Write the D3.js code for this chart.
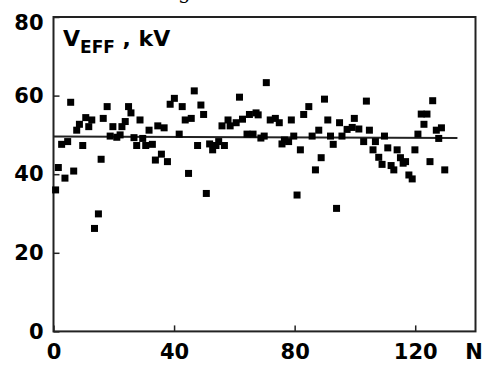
<!DOCTYPE html>
<html>
<head>
<meta charset="utf-8">
<script src="https://cdn.jsdelivr.net/npm/d3@7"></script>
<style>
  body { margin: 0; background: #fff; }
  svg { display: block; }
</style>
</head>
<body>
<div id="chart"></div>
<script>
const nValues = [
  0.7, 1.6, 2.7, 3.8, 4.7, 5.7, 6.7, 7.7, 8.6, 9.7,
  10.7, 11.7, 12.7, 13.6, 14.9, 15.8, 16.5, 17.8, 18.8, 19.7,
  21.0, 22.1, 22.7, 23.8, 24.9, 25.7, 26.7, 27.6, 28.7, 29.6,
  30.6, 31.7, 32.8, 33.8, 34.6, 35.8, 36.7, 37.8, 38.7, 40.1,
  41.7, 42.7, 43.7, 44.8, 45.7, 46.7, 47.8, 48.9, 49.8, 50.7,
  51.8, 52.8, 53.9, 54.8, 55.9, 56.7, 57.9, 58.6, 60.6, 61.7,
  62.7, 64.2, 65.0, 66.2, 67.2, 67.9, 68.8, 69.9, 70.6, 71.9,
  73.6, 74.9, 75.8, 76.6, 78.0, 78.9, 79.7, 80.8, 81.9, 83.0,
  84.7, 85.8, 86.9, 88.0, 88.8, 89.9, 91.0, 91.9, 92.8, 93.9,
  94.9, 95.7, 97.4, 99.1, 99.8, 101.3, 102.9, 103.8, 104.8, 106.0,
  106.8, 107.9, 109.0, 109.8, 110.9, 112.0, 112.9, 114.0, 115.1, 116.0,
  116.8, 117.9, 119.0, 119.9, 120.9, 122.0, 122.9, 123.9, 124.9, 125.8,
  127.0, 127.8, 128.7, 129.8
];
const vValues = [
  36.0, 41.7, 47.6, 39.0, 48.3, 58.3, 40.8, 51.2, 52.7, 47.3,
  54.4, 52.1, 53.8, 26.2, 29.9, 43.8, 54.2, 57.2, 49.7, 52.1,
  49.4, 50.0, 52.1, 53.4, 57.2, 55.6, 49.3, 47.3, 53.8, 49.1,
  47.3, 51.2, 47.6, 43.6, 52.3, 45.1, 51.8, 43.2, 57.8, 59.3,
  50.2, 57.2, 53.8, 40.2, 54.2, 61.2, 47.3, 57.6, 55.2, 35.1,
  47.7, 46.2, 47.3, 48.3, 52.3, 47.3, 53.8, 52.3, 53.1, 59.6,
  54.0, 50.2, 55.2, 50.2, 55.6, 55.1, 49.2, 49.7, 63.3, 53.8,
  54.2, 53.1, 47.7, 48.7, 48.3, 53.8, 49.7, 34.7, 46.2, 55.2,
  57.2, 49.7, 41.1, 51.2, 44.2, 59.1, 53.8, 49.7, 47.6, 31.3,
  53.1, 49.7, 51.4, 51.9, 54.2, 51.5, 48.3, 58.6, 51.2, 46.2,
  48.3, 44.3, 42.5, 49.7, 46.7, 42.2, 41.1, 46.2, 44.2, 42.8,
  43.2, 39.8, 38.8, 46.2, 50.2, 55.3, 52.7, 55.3, 43.2, 58.7,
  51.2, 49.1, 51.8, 41.1
];
// straight fit line through the data
const fitN = [0, 134];
const fitV = [49.6, 49.2];

const xTicks = [0, 40, 80, 120];
const yTicks = [0, 20, 40, 60, 80];

const width = 488;
const height = 365;
const margin = { left: 53.5, right: 475.5, top: 17, bottom: 331.4 };
const font = '"DejaVu Sans", Arial, sans-serif';

const svg = d3.select('#chart')
  .append('svg')
  .attr('width', width)
  .attr('height', height);

const x = d3.scaleLinear().domain([0, 140]).range([margin.left, margin.right]);
const y = d3.scaleLinear().domain([0, 80]).range([margin.bottom, margin.top]);

// bit of the caption above, cut off by the crop
svg.append('text')
  .attr('x', 178)
  .attr('y', -1)
  .style('font-family', '"DejaVu Serif", "Liberation Serif", serif')
  .style('font-size', '20px')
  .text('g');

const xAxis = svg.append('g')
  .attr('transform', `translate(0,${margin.bottom})`)
  .call(d3.axisBottom(x).tickValues(xTicks).tickSize(-6).tickPadding(13));

const yAxis = svg.append('g')
  .attr('transform', `translate(${margin.left},0)`)
  .call(d3.axisLeft(y).tickValues(yTicks).tickSize(-6).tickPadding(10));

[xAxis, yAxis].forEach(a => {
  a.select('.domain').remove();
  a.selectAll('line').attr('stroke', '#222').attr('stroke-width', 1.5);
  a.selectAll('text')
    .attr('fill', '#000')
    .style('font-family', font)
    .style('font-weight', 'bold')
    .style('font-size', '21px');
});
// the top label sits a little lower than its tick
yAxis.selectAll('.tick')
  .filter(d => d === 80)
  .select('text')
  .attr('dy', '0.6em');

// frame
svg.append('rect')
  .attr('x', margin.left)
  .attr('y', margin.top)
  .attr('width', margin.right - margin.left)
  .attr('height', margin.bottom - margin.top)
  .attr('fill', 'none')
  .attr('stroke', '#222')
  .attr('stroke-width', 2);

svg.append('text')
  .attr('x', x(139.5))
  .attr('y', margin.bottom + 28)
  .attr('text-anchor', 'middle')
  .style('font-family', font)
  .style('font-weight', 'bold')
  .style('font-size', '21px')
  .text('N');

// title inside the plot
const title = svg.append('text')
  .attr('x', 63)
  .attr('y', 45.5)
  .style('font-family', font)
  .style('font-weight', 'bold')
  .style('font-size', '22px');
title.append('tspan').text('V');
title.append('tspan').attr('dy', 7).style('font-size', '17px').text('EFF');
title.append('tspan').attr('dy', -7).text(' , kV');

// fit line
svg.append('line')
  .attr('x1', x(fitN[0]))
  .attr('y1', y(fitV[0]))
  .attr('x2', x(fitN[1]))
  .attr('y2', y(fitV[1]))
  .attr('stroke', '#222')
  .attr('stroke-width', 2);

const points = nValues.map((n, i) => ({ n: n, v: vValues[i] }));
const size = 7;

svg.selectAll('rect.pt')
  .data(points)
  .enter()
  .append('rect')
  .attr('class', 'pt')
  .attr('x', d => x(d.n) - size / 2)
  .attr('y', d => y(d.v) - size / 2)
  .attr('width', size)
  .attr('height', size)
  .attr('fill', '#000');
</script>
</body>
</html>
